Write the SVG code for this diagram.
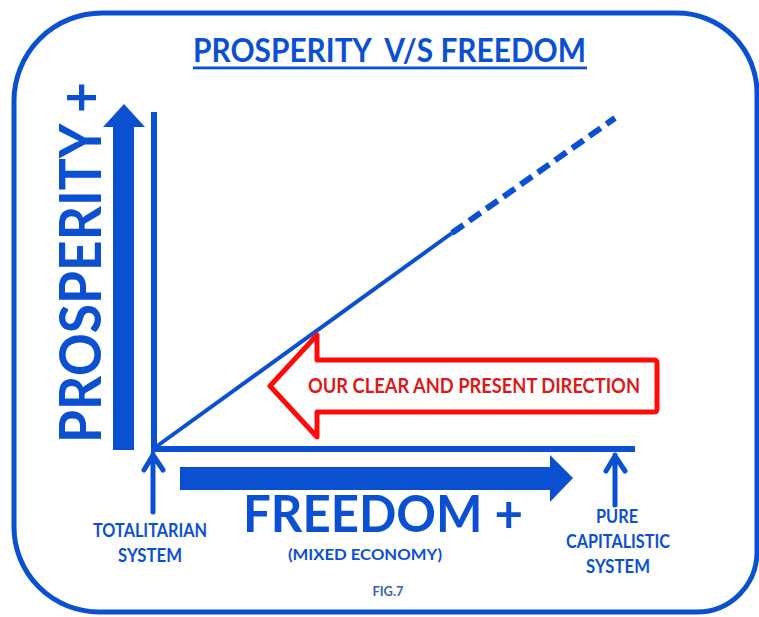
<svg xmlns="http://www.w3.org/2000/svg" width="759" height="617" viewBox="0 0 759 617">
  <style>
    .b { fill: #0c50d2; }
    .bs { stroke: #0c50d2; fill: none; }
    .t { font-family: Lato, "Open Sans", "Liberation Sans", sans-serif; font-weight: 700; fill: #0c50d2; }
    .lbl { font-size: 18px; text-anchor: middle; }
  </style>
  <rect width="759" height="617" fill="#ffffff"/>

  <!-- outer rounded frame -->
  <path id="frame" class="bs" stroke-width="5" d="M102,13 H677 A80,80 0 0 1 757,93 V552 A60,60 0 0 1 697,612 H99 A85,85 0 0 1 14,527 V101 A88,88 0 0 1 102,13 Z"/>

  <!-- title -->
  <g id="title">
    <text class="t" x="193" y="62" font-size="32" xml:space="preserve" style="white-space:pre" textLength="393" lengthAdjust="spacingAndGlyphs">PROSPERITY  V/S FREEDOM</text>
    <rect class="b" x="193" y="66.5" width="394" height="2.8"/>
  </g>

  <!-- vertical axis label and arrow -->
  <g id="prosperity-axis">
    <text class="t" font-size="58" transform="translate(101,443) rotate(-90)" textLength="361" lengthAdjust="spacingAndGlyphs">PROSPERITY +</text>
    <path class="b" d="M113,450 V127 H103 L124,104 L145,127 H134 V450 Z"/>
  </g>

  <!-- horizontal axis label and arrow -->
  <g id="freedom-axis">
    <path class="b" d="M180,467 H550 V455 L573,478 L550,502 V490 H180 Z"/>
    <text class="t" x="243" y="532" font-size="51" textLength="280" lengthAdjust="spacingAndGlyphs">FREEDOM +</text>
    <text class="t" x="365" y="560" font-size="16" font-weight="600" text-anchor="middle" textLength="154" lengthAdjust="spacingAndGlyphs">(MIXED ECONOMY)</text>
  </g>

  <!-- connectors: axes, trend line, markers -->
  <g id="connectors">
    <line class="bs" x1="154" y1="112" x2="154" y2="452" stroke-width="6"/>
    <line class="bs" x1="151" y1="449" x2="635" y2="449" stroke-width="6"/>
    <line class="bs" x1="153" y1="449" x2="452" y2="233" stroke-width="4"/>
    <line class="bs" x1="452" y1="233" x2="615" y2="118" stroke-width="6" stroke-dasharray="14 7"/>
    <g class="bs" stroke-width="5" stroke-linecap="round" stroke-linejoin="round">
      <path d="M153,454 V512 M144,470 L153,455 L163,470"/>
      <path d="M615,455 V505 M606,471 L615,456 L625,471"/>
    </g>
  </g>

  <!-- direction callout -->
  <g id="direction">
    <path d="M270,386 L317,335 V360 H654 Q657,360 657,363 V409 Q657,412 654,412 H317 V437 Z" fill="#ffffff" stroke="#ff0a0a" stroke-width="5" stroke-linejoin="round"/>
    <text class="t" x="308" y="393" font-size="20" style="fill:#dc1a1a" textLength="332" lengthAdjust="spacingAndGlyphs">OUR CLEAR AND PRESENT DIRECTION</text>
  </g>

  <!-- end labels -->
  <g id="totalitarian">
    <text class="t lbl" x="150" y="537" textLength="114" lengthAdjust="spacingAndGlyphs">TOTALITARIAN</text>
    <text class="t lbl" x="150" y="562" textLength="64" lengthAdjust="spacingAndGlyphs">SYSTEM</text>
  </g>
  <g id="capitalistic">
    <text class="t lbl" x="617" y="523" textLength="42" lengthAdjust="spacingAndGlyphs">PURE</text>
    <text class="t lbl" x="618" y="548" textLength="104" lengthAdjust="spacingAndGlyphs">CAPITALISTIC</text>
    <text class="t lbl" x="618" y="573" textLength="64" lengthAdjust="spacingAndGlyphs">SYSTEM</text>
  </g>

  <g id="figure-number">
    <text class="t" x="388" y="596" font-size="14" font-weight="400" text-anchor="middle" style="fill:#3a62b8" textLength="31" lengthAdjust="spacingAndGlyphs">FIG.7</text>
  </g>
</svg>
